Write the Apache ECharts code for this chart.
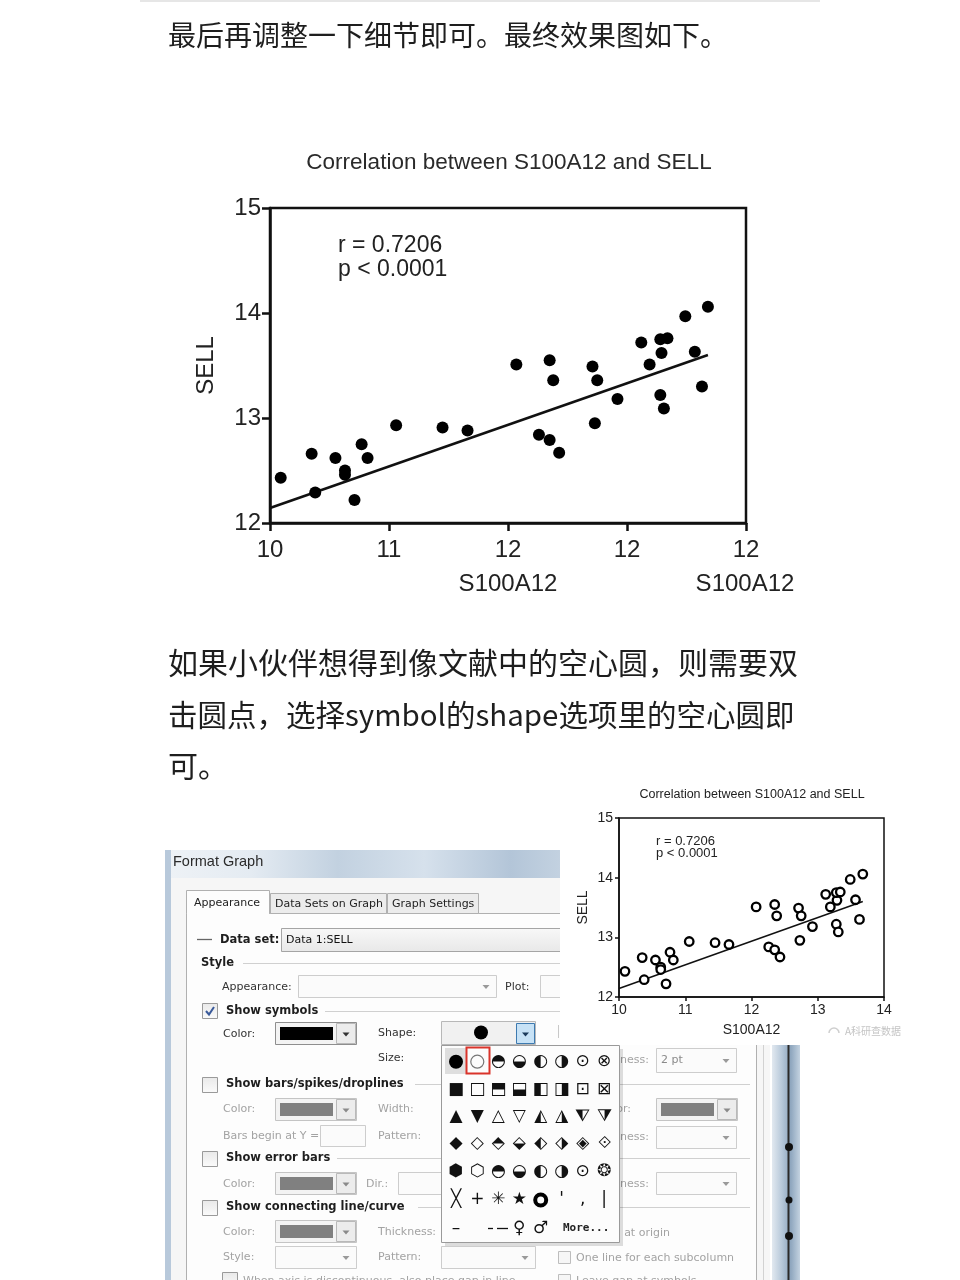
<!DOCTYPE html>
<html><head><meta charset="utf-8">
<script src="https://cdn.jsdelivr.net/npm/echarts@6.0.0/dist/echarts.min.js"></script>
<style>html,body{margin:0;padding:0;background:#fff}#c{width:960px;height:1280px}</style>
</head><body><div id="c"></div>
<script>
// ---------------- data ----------------
const introText = '最后再调整一下细节即可。最终效果图如下。';
const paraLines = ['如果小伙伴想得到像文献中的空心圆，则需要双', '击圆点，选择symbol的shape选项里的空心圆即', '可。'];
const chartTitle = 'Correlation between S100A12 and SELL';
const xName = 'S100A12';
const yName = 'SELL';
const statLines = ['r = 0.7206', 'p < 0.0001'];
const xRange = [10, 14];
const yRange = [12, 15];
const mainXTickLabels = ['10', '11', '12', '12', '12'];
const insetXTickLabels = ['10', '11', '12', '13', '14'];
const yTickLabels = ['12', '13', '14', '15'];
const s100a12 = [10.09, 10.35, 10.38, 10.55, 10.63, 10.63, 10.71, 10.77, 10.82, 11.06, 11.45, 11.66,
  12.07, 12.26, 12.35, 12.35, 12.38, 12.43, 12.71, 12.75, 12.73, 12.92, 13.12, 13.19, 13.28, 13.31,
  13.29, 13.28, 13.34, 13.49, 13.57, 13.63, 13.68];
const sell = [12.43, 12.66, 12.29, 12.62, 12.50, 12.46, 12.22, 12.75, 12.62, 12.93, 12.91, 12.88,
  13.51, 12.84, 13.55, 12.79, 13.36, 12.67, 13.49, 13.36, 12.95, 13.18, 13.72, 13.51, 13.22, 13.09,
  13.62, 13.75, 13.76, 13.97, 13.63, 13.30, 14.06];
const fitX = [10, 13.68];
const fitY = [12.143, 13.60];
const watermark = 'A科研查数据';
// dialog texts
const dlgTitle = 'Format Graph';
const dlgTabs = ['Appearance', 'Data Sets on Graph', 'Graph Settings'];
const paletteGlyphs = [
  ['', '', '◓', '◒', '◐', '◑', '⊙', '⊗'],
  ['■', '□', '⬒', '⬓', '◧', '◨', '⊡', '⊠'],
  ['▲', '▼', '△', '▽', '◭', '◮', '⧨', '⧩'],
  ['◆', '◇', '⬘', '⬙', '⬖', '⬗', '◈', '⟐'],
  ['⬢', '⬡', '◓', '◒', '◐', '◑', '⊙', '❂'],
  ['╳', '+', '✳', '★', '', '\'', ',', '|'],
  ['–', '', '', '♀', '♂', '', '', '']
];

// ---------------- helpers ----------------
const G = [];
const DV = '"DejaVu Sans"';
const LS = '"Liberation Sans"';
function R(x, y, w, h, style) { G.push({type: 'rect', shape: {x, y, width: w, height: h}, style: Object.assign({fill: 'none'}, style)}); }
function L(x1, y1, x2, y2, stroke, lw) { G.push({type: 'line', shape: {x1, y1, x2, y2}, style: {stroke: stroke || '#000', lineWidth: lw || 1}}); }
function T(x, y, text, font, fill, align) { G.push({type: 'text', x, y, style: {text, font, fill: fill || '#222', textAlign: align || 'left', textVerticalAlign: 'middle'}}); }
function C(cx, cy, r, style) { G.push({type: 'circle', shape: {cx, cy, r}, style}); }
function P(points, style) { G.push({type: 'polygon', shape: {points}, style}); }
function arrow(cx, cy, color) { P([[cx - 3.5, cy - 1.5], [cx + 3.5, cy - 1.5], [cx, cy + 2.5]], {fill: color}); }
function grad(dir, stops) { return {type: 'linear', x: 0, y: 0, x2: dir === 'h' ? 1 : 0, y2: dir === 'h' ? 0 : 1, colorStops: stops.map((c, i) => ({offset: i / (stops.length - 1), color: c}))}; }
function checkbox(x, y, checked) {
  R(x + 0.5, y + 0.5, 15, 15, {fill: grad('v', ['#e9e9e9', '#fbfbfb']), stroke: '#9a9a9a'});
  if (checked) G.push({type: 'polyline', shape: {points: [[x + 4, y + 8], [x + 7, y + 11.5], [x + 12, y + 4]]}, style: {stroke: '#3a5a9a', lineWidth: 2, fill: 'none'}});
}
function colorCombo(x, y, swatch, enabled) {
  R(x + 0.5, y + 0.5, 81, 22, {fill: '#f3f3f3', stroke: enabled ? '#8e8e8e' : '#c4c4c4'});
  R(x + 5, y + 5, 53, 13, {fill: swatch});
  R(x + 61.5, y + 1.5, 19, 20, {fill: '#ececec', stroke: '#b9b9b9'});
  arrow(x + 71, y + 12, enabled ? '#333' : '#8a8a8a');
}
function combo(x, y, w, h, arrowColor) {
  R(x + 0.5, y + 0.5, w, h, {fill: '#fbfbfb', stroke: '#cdcdcd'});
  if (arrowColor) arrow(x + w - 10, y + h / 2 + 0.5, arrowColor);
}
const BOLD = 'bold 11.5px ' + DV;
const REG = '11px ' + DV;
const GRAY = '#a3a3a3';

// ---------------- page text ----------------
R(140, 0, 680, 2, {fill: '#e6e6e6'});
T(168, 35, introText, '28px "Noto Sans CJK SC"', '#1e1e1e');
paraLines.forEach((s, i) => T(168, [663, 715, 766][i], s, (i === 1 ? '29.5px' : '30px') + ' "Noto Sans CJK SC"', '#1e1e1e'));

// main chart text
T(509, 163, chartTitle, '22.5px ' + LS, '#2a2a2a', 'center');
T(338, 246, statLines[0], '23px ' + LS, '#222');
T(338, 270, statLines[1], '23px ' + LS, '#222');
T(745, 584, xName, '24px ' + LS, '#222', 'center');

// ---------------- dialog ----------------
R(165, 850, 605, 430, {fill: '#f6f6f6'});
R(165, 850, 605, 28, {fill: grad('h', ['#eef2f6', '#e4ebf2', '#c2d1e0', '#d6e1ec', '#b3c5d8', '#cfdbe7', '#a9bdd2', '#d2dde8'])});
R(165, 850, 6, 430, {fill: '#b8c9db'});
T(173, 862, dlgTitle, '14.5px ' + LS, '#2b2b2b');
R(186.5, 913.5, 570, 380, {fill: '#fdfdfd', stroke: '#b0b0b0'});
R(270.5, 893.5, 116, 20, {fill: '#ececec', stroke: '#b0b0b0'});
R(387.5, 893.5, 91, 20, {fill: '#ececec', stroke: '#b0b0b0'});
R(186.5, 890.5, 83, 23, {fill: '#fdfdfd', stroke: '#b0b0b0'});
R(187, 912, 82, 3, {fill: '#fdfdfd'});
T(194, 903, dlgTabs[0], REG, '#222');
T(275, 904, dlgTabs[1], REG, '#222');
T(392, 904, dlgTabs[2], REG, '#222');

L(197, 939.5, 212, 939.5, '#666', 1.3);
T(220, 940, 'Data set:', BOLD, '#1e1e1e');
R(281.5, 928.5, 290, 23, {fill: grad('v', ['#f8f8f8', '#e8e8e8']), stroke: '#a5a5a5'});
T(286, 940, 'Data 1:SELL', REG, '#111');
T(201, 963, 'Style', BOLD, '#1e1e1e');
L(243, 963.5, 560, 963.5, '#d0d0d0', 1);
T(222, 987, 'Appearance:', REG, '#333');
combo(298, 975, 198, 22, '#9a9a9a');
T(505, 987, 'Plot:', REG, '#333');
combo(540, 975, 30, 22, null);
checkbox(202, 1003, true);
T(226, 1011, 'Show symbols', BOLD, '#1e1e1e');
L(325, 1011.5, 560, 1011.5, '#d0d0d0', 1);
T(223, 1034, 'Color:', REG, '#333');
colorCombo(275, 1022, '#000', true);
T(378, 1033, 'Shape:', REG, '#333');
R(441.5, 1021.5, 94, 23, {fill: '#f1f1f1', stroke: '#b8b8b8'});
C(481, 1032.5, 7, {fill: '#000'});
R(516.5, 1023.5, 18, 20, {fill: '#c7e2f6', stroke: '#3d7ab0'});
arrow(525.5, 1034, '#1b3a5a');
L(558.5, 1025, 558.5, 1038, '#c8c8c8', 1);
T(378, 1058, 'Size:', REG, '#333');

checkbox(202, 1077, false);
T(226, 1084, 'Show bars/spikes/droplines', BOLD, '#1e1e1e');
L(415, 1084.5, 750, 1084.5, '#d0d0d0', 1);
T(223, 1109, 'Color:', REG, GRAY);
colorCombo(275, 1098, '#808080', false);
T(378, 1109, 'Width:', REG, GRAY);
T(223, 1136, 'Bars begin at Y =', REG, GRAY);
combo(320, 1125, 45, 21, null);
T(378, 1136, 'Pattern:', REG, GRAY);

checkbox(202, 1151, false);
T(226, 1158, 'Show error bars', BOLD, '#1e1e1e');
L(337, 1158.5, 750, 1158.5, '#d0d0d0', 1);
T(223, 1184, 'Color:', REG, GRAY);
colorCombo(275, 1172, '#808080', false);
T(366, 1184, 'Dir.:', REG, GRAY);
combo(398, 1172, 60, 22, null);

checkbox(202, 1200, false);
T(226, 1207, 'Show connecting line/curve', BOLD, '#1e1e1e');
L(418, 1207.5, 750, 1207.5, '#d0d0d0', 1);
T(223, 1232, 'Color:', REG, GRAY);
colorCombo(275, 1220, '#808080', false);
T(378, 1232, 'Thickness:', REG, GRAY);
T(223, 1257, 'Style:', REG, GRAY);
combo(275, 1246, 81, 22, '#9a9a9a');
T(378, 1257, 'Pattern:', REG, GRAY);
combo(441, 1246, 94, 22, '#9a9a9a');
checkbox(222, 1272, false);
T(243, 1281, 'When axis is discontinuous, also place gap in line', REG, GRAY);

// right column of dialog
T(649, 1060, 'Thickness:', REG, GRAY, 'right');
combo(656, 1048, 80, 24, '#9a9a9a');
T(661, 1060, '2 pt', REG, '#8a8a8a');
T(631, 1109, 'Color:', REG, GRAY, 'right');
colorCombo(656, 1098, '#808080', false);
T(649, 1137, 'Thickness:', REG, GRAY, 'right');
combo(656, 1126, 80, 22, '#9a9a9a');
T(649, 1184, 'Thickness:', REG, GRAY, 'right');
combo(656, 1172, 80, 22, '#9a9a9a');
T(670, 1233, 'Start line at origin', REG, GRAY, 'right');
R(558.5, 1251.5, 12, 12, {fill: '#f6f6f6', stroke: '#bdbdbd'});
T(576, 1258, 'One line for each subcolumn', REG, GRAY);
R(558.5, 1274.5, 12, 12, {fill: '#f6f6f6', stroke: '#bdbdbd'});
T(576, 1281, 'Leave gap at symbols', REG, GRAY);
L(763.5, 1045, 763.5, 1280, '#d2d2d2', 1);
R(772, 1045, 28, 235, {fill: grad('h', ['#e2e9f0', '#b9cadb', '#8ea6be', '#c3d2e0'])});
L(788.5, 1045, 788.5, 1280, '#2a2a2a', 2);
C(789, 1147, 4, {fill: '#111'});
C(789, 1200, 3.5, {fill: '#111'});
C(789, 1236, 4, {fill: '#111'});

// symbol palette
const colX = [456, 477.3, 498.3, 519.3, 540.7, 561.7, 582.7, 604];
const rowY = [1061.7, 1090, 1116.7, 1144, 1171.7, 1200, 1228.3];
R(445, 1049, 178, 197, {fill: 'rgba(0,0,0,0.13)'});
R(441.5, 1045.5, 178, 197, {fill: '#fcfcfc', stroke: '#9a9a9a'});
R(445, 1048, 21, 26, {fill: '#dedede'});
C(colX[0], rowY[0], 7, {fill: '#000'});
C(colX[1], rowY[0], 6.5, {fill: 'none', stroke: '#777', lineWidth: 1.2});
R(466.5, 1047.5, 23, 26, {stroke: '#d9342b', lineWidth: 2});
C(colX[4], rowY[5], 5.5, {fill: 'none', stroke: '#000', lineWidth: 4});
paletteGlyphs.forEach((row, r) => row.forEach((g, c) => { if (g) T(colX[c], rowY[r], g, '17px ' + DV, '#111', 'center'); }));
L(488, 1228.5, 493, 1228.5, '#111', 1.3);
L(497, 1228.5, 508, 1228.5, '#111', 1.3);
T(563, 1228, 'More...', 'bold 11px "DejaVu Sans Mono"', '#222');

// ---------------- inset chart ----------------
R(560, 778, 345, 267, {fill: '#fff'});
T(752, 795, chartTitle, '12.5px ' + LS, '#222', 'center');
T(656, 841, statLines[0], '13px ' + LS, '#222');
T(656, 853, statLines[1], '13px ' + LS, '#222');
T(845, 1031, watermark, '10px "Noto Sans CJK SC"', '#c4c4c4');
G.push({type: 'arc', shape: {cx: 834, cy: 1033, r: 5, startAngle: Math.PI, endAngle: Math.PI * 2}, style: {stroke: '#cfcfcf', lineWidth: 1.5, fill: 'none'}});

// ---------------- chart ----------------
const pts = s100a12.map((x, i) => [x, sell[i]]);
const fitLine = fitX.map((x, i) => [x, fitY[i]]);
const axisFont = {fontFamily: 'Liberation Sans', color: '#222'};
function xAx(gi, labels, w, fs, tick, margin, nameGap) {
  return {gridIndex: gi, type: 'value', min: xRange[0], max: xRange[1], interval: 1, z: 10,
    axisLine: {show: true, onZero: false, lineStyle: {color: '#111', width: w}},
    axisTick: {show: true, inside: false, length: tick, lineStyle: {color: '#111', width: w}},
    splitLine: {show: false},
    axisLabel: Object.assign({margin, fontSize: fs, formatter: v => labels[Math.round(v - xRange[0])]}, axisFont),
    name: xName, nameLocation: 'middle', nameGap, nameMoveOverlap: false,
    nameTextStyle: Object.assign({fontSize: fs}, axisFont)};
}
function yAx(gi, w, fs, tick, margin, nameGap, nameFs) {
  return {gridIndex: gi, type: 'value', min: yRange[0], max: yRange[1], interval: 1, z: 10,
    axisLine: {show: true, onZero: false, lineStyle: {color: '#111', width: w}},
    axisTick: {show: true, inside: false, length: tick, lineStyle: {color: '#111', width: w}},
    splitLine: {show: false},
    axisLabel: Object.assign({margin, fontSize: fs, formatter: v => yTickLabels[Math.round(v - yRange[0])]}, axisFont),
    name: yName, nameLocation: 'middle', nameGap, nameMoveOverlap: false,
    nameTextStyle: Object.assign({fontSize: nameFs}, axisFont)};
}
const chart = echarts.init(document.getElementById('c'), null, {renderer: 'canvas'});
chart.setOption({
  animation: false,
  backgroundColor: '#fff',
  grid: [
    {left: 270, top: 208, width: 476, height: 315, show: true, borderColor: '#111', borderWidth: 2.5, backgroundColor: 'transparent', z: 10, containLabel: false, outerBoundsMode: 'none'},
    {left: 619, top: 818, width: 265, height: 179, show: true, borderColor: '#111', borderWidth: 1.5, backgroundColor: 'transparent', z: 10, containLabel: false, outerBoundsMode: 'none'}
  ],
  xAxis: [xAx(0, mainXTickLabels, 2.5, 24, 8, 15, 49), xAx(1, insetXTickLabels, 1.5, 14, 4, 6, 26)],
  yAxis: [yAx(0, 2.5, 24, 8, 9, 52, 24), yAx(1, 1.5, 14, 4, 6, 29, 14)],
  series: [
    {type: 'line', xAxisIndex: 0, yAxisIndex: 0, data: fitLine, symbol: 'none', z: 11, lineStyle: {color: '#111', width: 2.5}},
    {type: 'scatter', xAxisIndex: 0, yAxisIndex: 0, data: pts, symbol: 'circle', symbolSize: 12, z: 12, itemStyle: {color: '#000', opacity: 1}},
    {type: 'line', xAxisIndex: 1, yAxisIndex: 1, data: fitLine, symbol: 'none', z: 11, lineStyle: {color: '#111', width: 1.5}},
    {type: 'scatter', xAxisIndex: 1, yAxisIndex: 1, data: pts, symbol: 'circle', symbolSize: 8.5, z: 12, itemStyle: {color: '#fff', borderColor: '#000', borderWidth: 2.3, opacity: 1}}
  ],
  graphic: {elements: G}
});
</script></body></html>
